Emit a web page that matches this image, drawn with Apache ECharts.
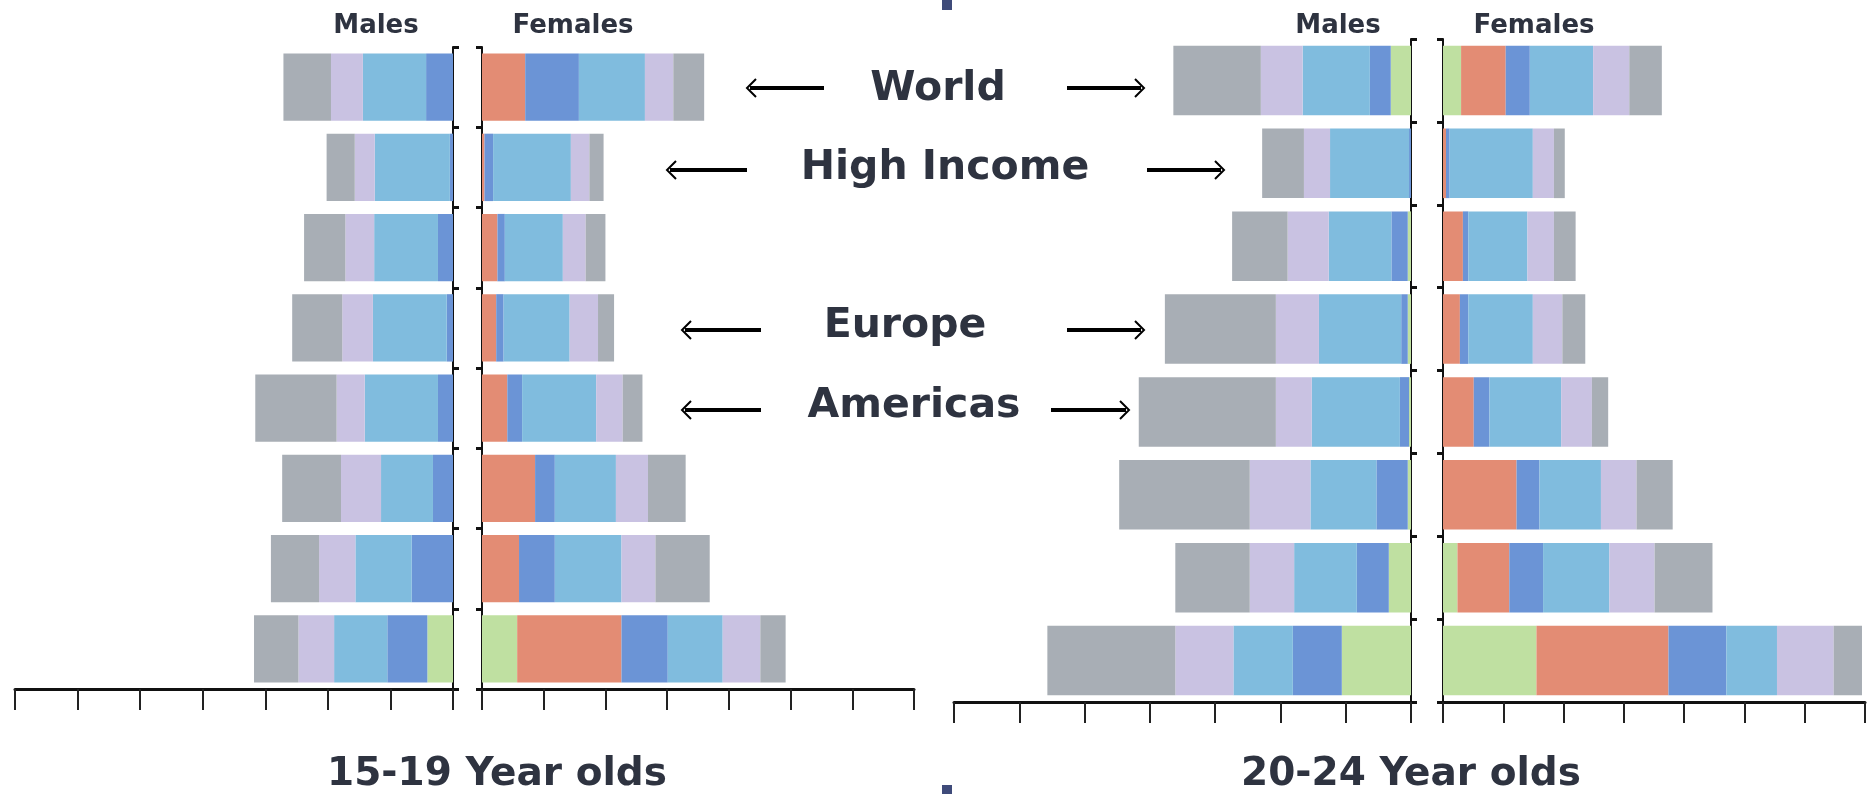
<!DOCTYPE html>
<html><head><meta charset="utf-8">
<script src="https://cdn.jsdelivr.net/npm/echarts@6/dist/echarts.min.js"></script>
<style>html,body{margin:0;padding:0;background:#fff}#c{width:1873px;height:794px}</style>
</head><body><div id="c"></div>
<script>
// ---------- data ----------
const categories = ['World', 'High Income', 'Region 3', 'Europe', 'Americas', 'Region 6', 'Region 7', 'Region 8'];
const xTicks = [0, 1, 2, 3, 4, 5, 6, 7];

// 15-19 year olds, males (from centre outward)
const m1519Green = [0, 0, 0, 0, 0, 0, 0, 0.41];
const m1519Blue = [0.43, 0.05, 0.24, 0.10, 0.24, 0.32, 0.66, 0.64];
const m1519LightBlue = [1.01, 1.20, 1.02, 1.18, 1.17, 0.83, 0.90, 0.85];
const m1519Lavender = [0.51, 0.32, 0.46, 0.49, 0.45, 0.64, 0.58, 0.57];
const m1519Grey = [0.76, 0.45, 0.66, 0.80, 1.30, 0.94, 0.77, 0.71];

// 15-19 year olds, females
const f1519Green = [0, 0, 0, 0, 0, 0, 0, 0.57];
const f1519Orange = [0.70, 0.04, 0.25, 0.23, 0.41, 0.86, 0.60, 1.69];
const f1519Blue = [0.87, 0.14, 0.12, 0.12, 0.24, 0.32, 0.58, 0.75];
const f1519LightBlue = [1.07, 1.26, 0.94, 1.07, 1.20, 0.99, 1.08, 0.89];
const f1519Lavender = [0.46, 0.30, 0.37, 0.46, 0.43, 0.52, 0.55, 0.61];
const f1519Grey = [0.50, 0.23, 0.32, 0.26, 0.32, 0.61, 0.88, 0.41];

// 20-24 year olds, males
const m2024Green = [0.31, 0, 0.05, 0.05, 0.03, 0.05, 0.34, 1.06];
const m2024Blue = [0.32, 0.03, 0.25, 0.10, 0.14, 0.48, 0.49, 0.75];
const m2024LightBlue = [1.03, 1.21, 0.96, 1.26, 1.35, 1.01, 0.96, 0.91];
const m2024Lavender = [0.64, 0.40, 0.63, 0.66, 0.55, 0.93, 0.68, 0.89];
const m2024Grey = [1.34, 0.64, 0.85, 1.70, 2.10, 2.00, 1.14, 1.96];

// 20-24 year olds, females
const f2024Green = [0.30, 0, 0, 0, 0, 0, 0.24, 1.55];
const f2024Orange = [0.74, 0.05, 0.33, 0.28, 0.51, 1.22, 0.86, 2.19];
const f2024Blue = [0.40, 0.06, 0.09, 0.14, 0.26, 0.38, 0.56, 0.96];
const f2024LightBlue = [1.05, 1.38, 0.98, 1.07, 1.19, 1.02, 1.10, 0.84];
const f2024Lavender = [0.60, 0.35, 0.44, 0.49, 0.51, 0.59, 0.75, 0.94];
const f2024Grey = [0.54, 0.18, 0.36, 0.38, 0.27, 0.60, 0.96, 0.47];

// ---------- styling ----------
const COL = {
  green: '#bfe0a1', orange: '#e38c74', blue: '#6b94d6',
  lightBlue: '#80bcde', lavender: '#c9c2e2', grey: '#a8aeb5'
};
const INK = '#2e3340';

const grids = [
  { left: 15, width: 438, top: 47, height: 642 },     // 15-19 males
  { left: 482, width: 432, top: 47, height: 642 },    // 15-19 females
  { left: 954, width: 457, top: 39, height: 663 },    // 20-24 males
  { left: 1443, width: 422, top: 39, height: 663 }    // 20-24 females
];

function xAxisFor(i, inverse) {
  return {
    gridIndex: i, type: 'value', min: xTicks[0], max: xTicks[xTicks.length - 1], interval: 1,
    inverse: inverse,
    axisLine: { show: true, onZero: false, lineStyle: { color: '#111', width: 3 } },
    axisTick: { show: true, length: 21, lineStyle: { color: '#222', width: 2 } },
    axisLabel: { show: false }, splitLine: { show: false }
  };
}
function yAxisFor(i, pos) {
  return {
    gridIndex: i, type: 'category', data: categories, inverse: true, position: pos,
    axisLine: { show: true, lineStyle: { color: '#111', width: 2 } },
    axisTick: { show: true, length: 6, lineStyle: { color: '#111', width: 3 } },
    axisLabel: { show: false }, splitLine: { show: false }
  };
}

function seriesSet(idx, stackId, parts) {
  return parts.map(p => ({
    type: 'bar', name: p[0], stack: stackId, xAxisIndex: idx, yAxisIndex: idx,
    data: p[1], barWidth: '84%',
    itemStyle: { color: COL[p[0]] }, emphasis: { disabled: true }, silent: true
  }));
}

const series = [].concat(
  seriesSet(0, 'm1519', [['green', m1519Green], ['blue', m1519Blue], ['lightBlue', m1519LightBlue], ['lavender', m1519Lavender], ['grey', m1519Grey]]),
  seriesSet(1, 'f1519', [['green', f1519Green], ['orange', f1519Orange], ['blue', f1519Blue], ['lightBlue', f1519LightBlue], ['lavender', f1519Lavender], ['grey', f1519Grey]]),
  seriesSet(2, 'm2024', [['green', m2024Green], ['blue', m2024Blue], ['lightBlue', m2024LightBlue], ['lavender', m2024Lavender], ['grey', m2024Grey]]),
  seriesSet(3, 'f2024', [['green', f2024Green], ['orange', f2024Orange], ['blue', f2024Blue], ['lightBlue', f2024LightBlue], ['lavender', f2024Lavender], ['grey', f2024Grey]])
);

// ---------- annotations ----------
const labelTexts = [
  { t: 'Males', x: 376, y: 26, s: 26 },
  { t: 'Females', x: 573, y: 26, s: 26 },
  { t: 'Males', x: 1338, y: 26, s: 26 },
  { t: 'Females', x: 1534, y: 26, s: 26 },
  { t: 'World', x: 938, y: 89, s: 41 },
  { t: 'High Income', x: 945, y: 168, s: 41 },
  { t: 'Europe', x: 905, y: 326, s: 41 },
  { t: 'Americas', x: 914, y: 406, s: 41 },
  { t: '15-19 Year olds', x: 497, y: 775, s: 39 },
  { t: '20-24 Year olds', x: 1411, y: 775, s: 39 }
];
const arrows = [
  { a: 747, b: 824, y: 88, d: -1 }, { a: 1067, b: 1144, y: 88, d: 1 },
  { a: 667, b: 747, y: 170, d: -1 }, { a: 1147, b: 1224, y: 170, d: 1 },
  { a: 682, b: 761, y: 330, d: -1 }, { a: 1067, b: 1144, y: 330, d: 1 },
  { a: 682, b: 761, y: 410, d: -1 }, { a: 1051, b: 1129, y: 410, d: 1 }
];

const graphic = [];
labelTexts.forEach(o => graphic.push({
  type: 'text', x: o.x, y: o.y, silent: true,
  style: { text: o.t, fill: INK, font: 'bold ' + o.s + 'px "DejaVu Sans"', textAlign: 'center', textVerticalAlign: 'middle' }
}));
arrows.forEach(o => {
  graphic.push({ type: 'line', silent: true, shape: { x1: o.a + (o.d < 0 ? 3 : 0), y1: o.y, x2: o.b - (o.d > 0 ? 3 : 0), y2: o.y }, style: { stroke: '#000', lineWidth: 4 } });
  const tip = o.d < 0 ? o.a : o.b;
  graphic.push({ type: 'polyline', silent: true, shape: { points: [[tip - o.d * 9, o.y - 9], [tip, o.y], [tip - o.d * 9, o.y + 9]] }, style: { stroke: '#000', lineWidth: 2, fill: null } });
});
graphic.push({ type: 'rect', silent: true, shape: { x: 942, y: 0, width: 10, height: 10 }, style: { fill: '#3f4b7a' } });
graphic.push({ type: 'rect', silent: true, shape: { x: 942, y: 785, width: 10, height: 9 }, style: { fill: '#3f4b7a' } });

const chart = echarts.init(document.getElementById('c'), null, { renderer: 'canvas' });
chart.setOption({
  animation: false,
  backgroundColor: '#ffffff',
  grid: grids,
  xAxis: [xAxisFor(0, true), xAxisFor(1, false), xAxisFor(2, true), xAxisFor(3, false)],
  yAxis: [yAxisFor(0, 'right'), yAxisFor(1, 'left'), yAxisFor(2, 'right'), yAxisFor(3, 'left')],
  series: series,
  graphic: graphic
});
</script></body></html>
